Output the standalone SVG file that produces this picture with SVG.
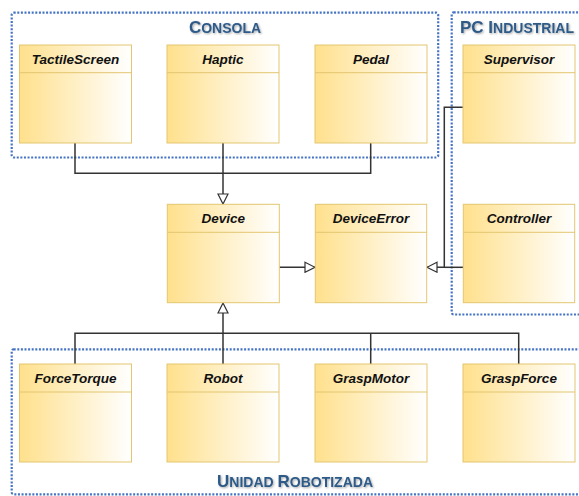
<svg xmlns="http://www.w3.org/2000/svg" width="579" height="496" viewBox="0 0 579 496">
<defs>
<linearGradient id="g" x1="0" y1="0" x2="1" y2="0">
<stop offset="0" stop-color="#FFE08C"/>
<stop offset="1" stop-color="#FFFFFF"/>
</linearGradient>
<marker id="tri" markerWidth="12" markerHeight="12" refX="11" refY="6" orient="auto" markerUnits="userSpaceOnUse">
<path d="M1,1 L11,6 L1,11 Z" fill="#fff" stroke="#333" stroke-width="1.2"/>
</marker>
<filter id="sh" x="-10%" y="-30%" width="120%" height="160%">
<feGaussianBlur in="SourceAlpha" stdDeviation="0.8"/>
<feOffset dx="0.8" dy="0.8" result="b"/>
<feComponentTransfer><feFuncA type="linear" slope="0.35"/></feComponentTransfer>
<feMerge><feMergeNode/><feMergeNode in="SourceGraphic"/></feMerge>
</filter>
</defs>
<style>
.grp{fill:none;stroke:#4472C4;stroke-width:2.2;stroke-dasharray:2 1.6}
.ttl{font-family:"Liberation Sans",Arial,sans-serif;font-weight:bold;fill:#2E5A87}
.box{fill:url(#g);stroke:#E3C670;stroke-width:1}
.sep{stroke:#E3C670;stroke-width:1}
.lbl{font-family:"Liberation Sans",Arial,sans-serif;font-weight:bold;font-style:italic;font-size:13.5px;fill:#111;text-anchor:middle}
.con{fill:none;stroke:#333;stroke-width:1.5}
</style>
<g id="groups">
<rect class="grp" x="11.7" y="12.7" width="426.5" height="144.8" rx="2"/>
<rect class="grp" x="451.7" y="12.3" width="140" height="302.2" rx="2"/>
<rect class="grp" x="11.7" y="349.3" width="580" height="145" rx="2"/>
<text class="ttl" x="225" y="33" text-anchor="middle" filter="url(#sh)"><tspan font-size="17">C</tspan><tspan font-size="14">ONSOLA</tspan></text>
<text class="ttl" x="460" y="33" filter="url(#sh)"><tspan font-size="17">PC I</tspan><tspan font-size="14">NDUSTRIAL</tspan></text>
<text class="ttl" x="295" y="487" text-anchor="middle" filter="url(#sh)"><tspan font-size="17">U</tspan><tspan font-size="14">NIDAD </tspan><tspan font-size="17">R</tspan><tspan font-size="14">OBOTIZADA</tspan></text>
</g>
<g id="connectors">
<polyline class="con" points="75,143 75,173.3 370.7,173.3 370.7,143"/>
<line class="con" x1="223" y1="143" x2="223" y2="204" marker-end="url(#tri)"/>
<polyline class="con" points="75,364 75,333.3 518.7,333.3 518.7,364"/>
<line class="con" x1="370.7" y1="333.3" x2="370.7" y2="364"/>
<line class="con" x1="223" y1="364" x2="223" y2="303" marker-end="url(#tri)"/>
<line class="con" x1="279.5" y1="267.3" x2="315" y2="267.3" marker-end="url(#tri)"/>
<polyline class="con" points="463,107.3 444.3,107.3 444.3,267.3 427,267.3" marker-end="url(#tri)"/>
<line class="con" x1="463" y1="267.3" x2="444.3" y2="267.3"/>
</g>
<g id="TactileScreen"><rect class="box" x="19.5" y="45" width="112" height="98"/><line class="sep" x1="19.5" y1="72.7" x2="131.5" y2="72.7"/><text class="lbl" x="75.5" y="63.5">TactileScreen</text></g>
<g id="Haptic"><rect class="box" x="167" y="45" width="112" height="98"/><line class="sep" x1="167" y1="72.7" x2="279" y2="72.7"/><text class="lbl" x="223" y="63.5">Haptic</text></g>
<g id="Pedal"><rect class="box" x="315" y="45" width="112" height="98"/><line class="sep" x1="315" y1="72.7" x2="427" y2="72.7"/><text class="lbl" x="371" y="63.5">Pedal</text></g>
<g id="Supervisor"><rect class="box" x="463" y="45" width="112" height="98"/><line class="sep" x1="463" y1="72.7" x2="575" y2="72.7"/><text class="lbl" x="519" y="63.5">Supervisor</text></g>
<g id="Device"><rect class="box" x="167.3" y="204.3" width="112" height="98.4"/><line class="sep" x1="167.3" y1="232.3" x2="279.3" y2="232.3"/><text class="lbl" x="223.3" y="223">Device</text></g>
<g id="DeviceError"><rect class="box" x="315.3" y="204.3" width="111.4" height="98.4"/><line class="sep" x1="315.3" y1="232.3" x2="426.7" y2="232.3"/><text class="lbl" x="371" y="223">DeviceError</text></g>
<g id="Controller"><rect class="box" x="463.3" y="204.3" width="111.4" height="98.4"/><line class="sep" x1="463.3" y1="232.3" x2="574.7" y2="232.3"/><text class="lbl" x="519" y="223">Controller</text></g>
<g id="ForceTorque"><rect class="box" x="19.5" y="364" width="112" height="98"/><line class="sep" x1="19.5" y1="392" x2="131.5" y2="392"/><text class="lbl" x="75.5" y="382.5">ForceTorque</text></g>
<g id="Robot"><rect class="box" x="167" y="364" width="112" height="98"/><line class="sep" x1="167" y1="392" x2="279" y2="392"/><text class="lbl" x="223" y="382.5">Robot</text></g>
<g id="GraspMotor"><rect class="box" x="315" y="364" width="112" height="98"/><line class="sep" x1="315" y1="392" x2="427" y2="392"/><text class="lbl" x="371" y="382.5">GraspMotor</text></g>
<g id="GraspForce"><rect class="box" x="463" y="364" width="112" height="98"/><line class="sep" x1="463" y1="392" x2="575" y2="392"/><text class="lbl" x="519" y="382.5">GraspForce</text></g>
</svg>
